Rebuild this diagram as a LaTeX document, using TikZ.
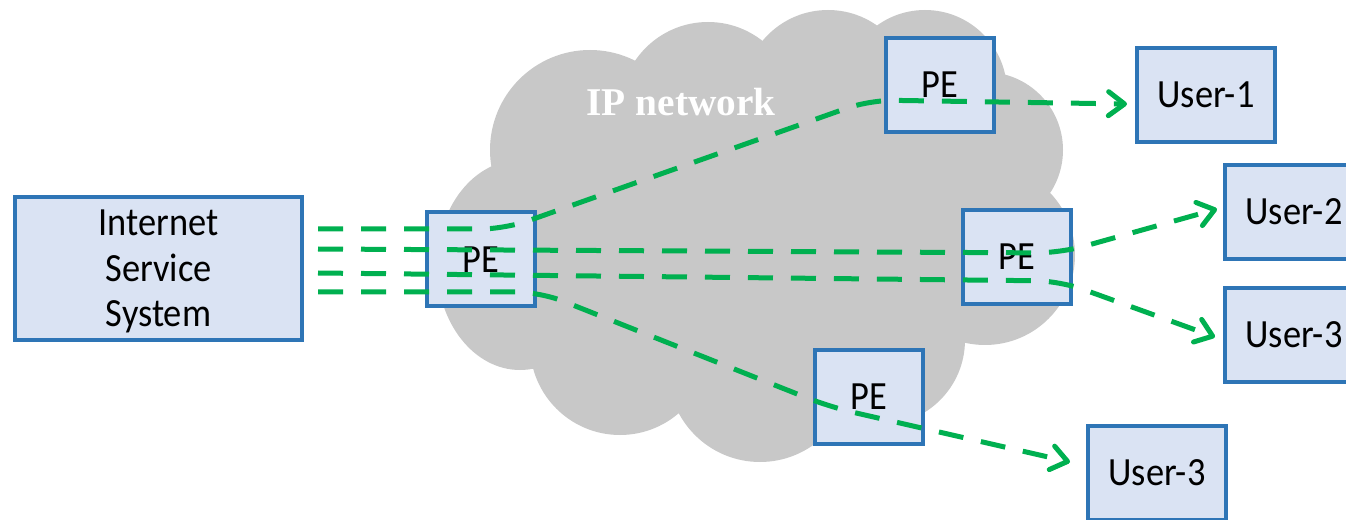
\documentclass[tikz,border=0pt]{standalone}
\usepackage{fontspec}
\setmainfont{Carlito}
\newfontfamily\boxfont[FakeStretch=0.91]{Carlito}
\newfontfamily\titlefont{Liberation Serif}
\usetikzlibrary{arrows.meta}
\definecolor{cloudgray}{HTML}{C8C8C8}
\definecolor{boxfill}{HTML}{DAE3F3}
\definecolor{boxline}{HTML}{2E75B6}
\definecolor{flow}{HTML}{00B050}
\begin{document}
\begin{tikzpicture}[x=0.75pt,y=-0.75pt,
  box/.style={draw=boxline, fill=boxfill, line width=3pt, inner sep=0pt, font=\boxfont\fontsize{30}{34}\selectfont},
  pebox/.style={box, minimum width=81pt, minimum height=70.5pt},
  userbox/.style={box, minimum width=103.5pt, minimum height=70.5pt},
  flowline/.style={draw=flow, line width=3.75pt, dash pattern=on 18.75pt off 13.5pt, rounded corners=18pt},
  flowarrow/.style={flowline, -{Straight Barb[length=12pt,width=18pt,round]}}]
\useasboundingbox (0,0) rectangle (1346,520);
% cloud
\fill[cloudgray]
  (520,265) ellipse [x radius=62.25pt, y radius=78.75pt]
  (590,150) circle [radius=75pt]
  (708,110) circle [radius=66pt]
  (828,95) circle [radius=63.75pt]
  (925,92) circle [radius=61.5pt]
  (985,150) circle [radius=58.5pt]
  (985,255) circle [radius=67.5pt]
  (880,340) circle [radius=63.75pt]
  (760,370) circle [radius=69pt]
  (620,345) circle [radius=67.5pt]
  (760,240) ellipse [x radius=187.5pt, y radius=127.5pt];
\node[text=white, font=\titlefont\bfseries\fontsize{29.5}{34}\selectfont] (ipnet) at (681,102) {IP network};
% boxes
\node[box, minimum width=215.25pt, minimum height=107.25pt, align=center, text depth=0pt] (iss) at (158.5,268.5) {Internet\\Service\\System};
\node[pebox] (pe1) at (481,259.5) {PE};
\node[pebox] (pe2) at (940,85) {PE};
\node[pebox] (pe3) at (1016.5,257) {PE};
\node[pebox] (pe4) at (869,397) {PE};
\node[userbox] (u1) at (1206,95) {User-1};
\node[userbox] (u2) at (1294,212) {User-2};
\node[userbox] (u3) at (1294,335) {User-3};
\node[userbox] (u4) at (1157,473) {User-3};
% connector points
\coordinate (s1) at (318,229);
\coordinate (s2) at (318,249);
\coordinate (s3) at (318,273);
\coordinate (s4) at (318,292);
\coordinate (w1a) at (505,229);
\coordinate (w1b) at (870,100);
\coordinate (w2) at (1060,253);
\coordinate (w3) at (1060,281);
\coordinate (w4a) at (540,292);
\coordinate (w4b) at (830,407);
\coordinate (t1) at (1127,104);
\coordinate (t2) at (1217,209);
\coordinate (t3) at (1215,337);
\coordinate (t4) at (1070,462);
% flows
\draw[flowarrow] (s1) -- (w1a) -- (w1b) -- (t1);
\draw[flowarrow] (s2) -- (w2) -- (t2);
\draw[flowarrow] (s3) -- (w3) -- (t3);
\draw[flowarrow] (s4) -- (w4a) -- (w4b) -- (t4);
\end{tikzpicture}
\end{document}
